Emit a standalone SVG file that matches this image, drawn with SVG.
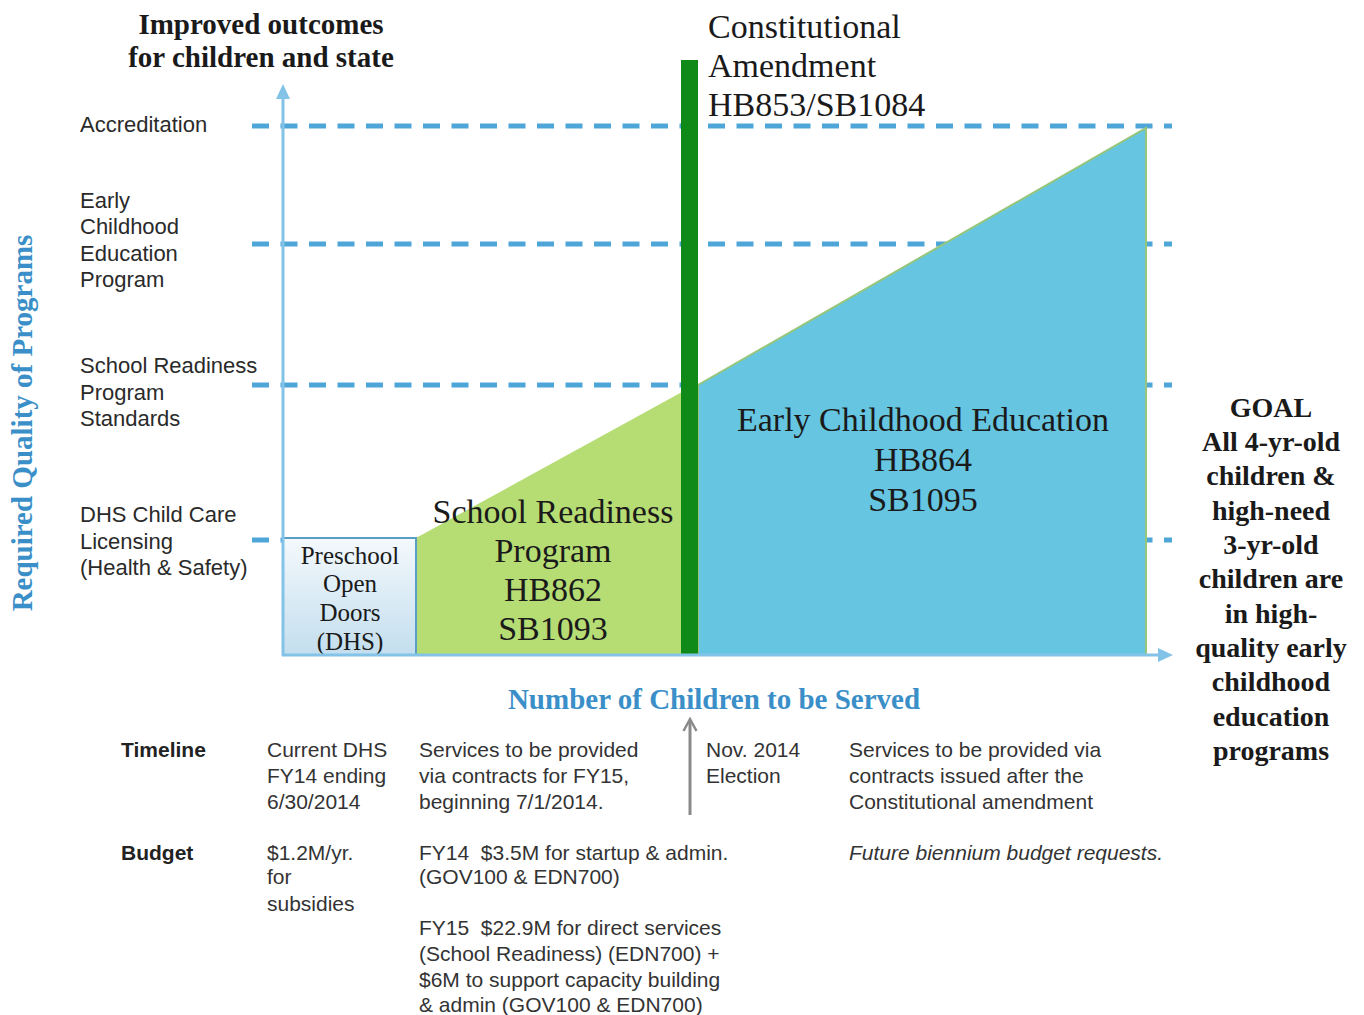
<svg xmlns="http://www.w3.org/2000/svg" width="1364" height="1015" viewBox="0 0 1364 1015">
<defs>
<linearGradient id="pgrad" x1="0" y1="0" x2="0" y2="1">
<stop offset="0" stop-color="#f4f9fc"/>
<stop offset="1" stop-color="#c3deee"/>
</linearGradient>
<marker id="axarrow" markerWidth="16" markerHeight="16" refX="4" refY="8" orient="auto" markerUnits="userSpaceOnUse">
<path d="M0,1 L15,8 L0,15 Z" fill="#84c3e8"/>
</marker>
<marker id="grayarrow" markerWidth="16" markerHeight="16" refX="12" refY="8" orient="auto" markerUnits="userSpaceOnUse">
<path d="M1,1.5 L13,8 L1,14.5" fill="none" stroke="#8a8a8a" stroke-width="2.5"/>
</marker>
</defs>
<style>
.serif{font-family:"Liberation Serif","Times New Roman",serif;fill:#1a1a1a}
.bold{font-weight:bold}
.lbl{font-family:"Liberation Sans",Arial,sans-serif;font-size:22px;fill:#2a2a2a}
.tbl{font-family:"Liberation Sans",Arial,sans-serif;font-size:21px;fill:#333}
.dash{stroke:#4ea6d8;stroke-width:5;stroke-dasharray:17 11.5;fill:none}
</style>
<rect width="1364" height="1015" fill="#ffffff"/>

<g id="gridlines">
<line class="dash" x1="252" y1="126" x2="1172" y2="126"/>
<line class="dash" x1="252" y1="244" x2="1172" y2="244"/>
<line class="dash" x1="252" y1="385" x2="1172" y2="385"/>
<line class="dash" x1="252" y1="540" x2="1172" y2="540"/>
</g>

<g id="ece-area">
<polygon points="698,385 1146,128 1146,655 698,655" fill="#66c5e0" stroke="#96c67a" stroke-width="2"/>
<text class="serif" font-size="34" text-anchor="middle"><tspan x="923" y="431">Early Childhood Education</tspan><tspan x="923" y="471">HB864</tspan><tspan x="923" y="511">SB1095</tspan></text>
</g>

<g id="school-readiness-area">
<polygon points="416,538 682,392 682,655 416,655" fill="#b6dc74"/>
<text class="serif" font-size="34" text-anchor="middle"><tspan x="553" y="523">School Readiness</tspan><tspan x="553" y="562">Program</tspan><tspan x="553" y="601">HB862</tspan><tspan x="553" y="640">SB1093</tspan></text>
</g>

<g id="preschool">
<rect x="283" y="538" width="133" height="117" fill="url(#pgrad)" stroke="#5a9ec8" stroke-width="2"/>
<text class="serif" font-size="25" text-anchor="middle" fill="#333"><tspan x="350" y="564">Preschool</tspan><tspan x="350" y="592">Open</tspan><tspan x="350" y="621">Doors</tspan><tspan x="350" y="650">(DHS)</tspan></text>
</g>

<g id="amendment">
<rect x="681" y="60" width="17" height="595" fill="#0f8a18"/>
<text class="serif" font-size="34"><tspan x="708" y="38">Constitutional</tspan><tspan x="708" y="77">Amendment</tspan><tspan x="708" y="116">HB853/SB1084</tspan></text>
</g>

<g id="connectors">
<line x1="283" y1="656" x2="283" y2="95" stroke="#84c3e8" stroke-width="3" marker-end="url(#axarrow)"/>
<line x1="282" y1="655" x2="1162" y2="655" stroke="#84c3e8" stroke-width="3" marker-end="url(#axarrow)"/>
<line x1="690" y1="815" x2="690" y2="720" stroke="#8a8a8a" stroke-width="3" marker-end="url(#grayarrow)"/>
</g>

<g id="y-axis-title">
<text class="serif bold" font-size="29" text-anchor="middle" transform="translate(32,423) rotate(-90)" style="fill:#3a8fc8">Required Quality of Programs</text>
</g>

<g id="top-title">
<text class="serif bold" font-size="29" text-anchor="middle"><tspan x="261" y="34">Improved outcomes</tspan><tspan x="261" y="67">for children and state</tspan></text>
</g>

<g id="x-axis-title">
<text class="serif bold" font-size="29" text-anchor="middle" x="714" y="709" style="fill:#3a8fc8">Number of Children to be Served</text>
</g>

<g id="level-labels">
<text class="lbl" x="80" y="132">Accreditation</text>
<text class="lbl"><tspan x="80" y="208">Early</tspan><tspan x="80" y="234">Childhood</tspan><tspan x="80" y="261">Education</tspan><tspan x="80" y="287">Program</tspan></text>
<text class="lbl"><tspan x="80" y="373">School Readiness</tspan><tspan x="80" y="400">Program</tspan><tspan x="80" y="426">Standards</tspan></text>
<text class="lbl"><tspan x="80" y="522">DHS Child Care</tspan><tspan x="80" y="549">Licensing</tspan><tspan x="80" y="575">(Health &amp; Safety)</tspan></text>
</g>

<g id="goal">
<text class="serif bold" font-size="28" text-anchor="middle"><tspan x="1271" y="417">GOAL</tspan><tspan x="1271" y="451">All 4-yr-old</tspan><tspan x="1271" y="485">children &amp;</tspan><tspan x="1271" y="520">high-need</tspan><tspan x="1271" y="554">3-yr-old</tspan><tspan x="1271" y="588">children are</tspan><tspan x="1271" y="623">in high-</tspan><tspan x="1271" y="657">quality early</tspan><tspan x="1271" y="691">childhood</tspan><tspan x="1271" y="726">education</tspan><tspan x="1271" y="760">programs</tspan></text>
</g>

<g id="timeline-row">
<text class="tbl bold" x="121" y="757" style="fill:#222">Timeline</text>
<text class="tbl"><tspan x="267" y="757">Current DHS</tspan><tspan x="267" y="783">FY14 ending</tspan><tspan x="267" y="809">6/30/2014</tspan></text>
<text class="tbl"><tspan x="419" y="757">Services to be provided</tspan><tspan x="419" y="783">via contracts for FY15,</tspan><tspan x="419" y="809">beginning 7/1/2014.</tspan></text>
<text class="tbl"><tspan x="706" y="757">Nov. 2014</tspan><tspan x="706" y="783">Election</tspan></text>
<text class="tbl"><tspan x="849" y="757">Services to be provided via</tspan><tspan x="849" y="783">contracts issued after the</tspan><tspan x="849" y="809">Constitutional amendment</tspan></text>
</g>

<g id="budget-row">
<text class="tbl bold" x="121" y="860" style="fill:#222">Budget</text>
<text class="tbl"><tspan x="267" y="860">$1.2M/yr.</tspan><tspan x="267" y="884">for</tspan><tspan x="267" y="911">subsidies</tspan></text>
<text class="tbl" xml:space="preserve"><tspan x="419" y="860">FY14  $3.5M for startup &amp; admin.</tspan><tspan x="419" y="884">(GOV100 &amp; EDN700)</tspan></text>
<text class="tbl" xml:space="preserve"><tspan x="419" y="935">FY15  $22.9M for direct services</tspan><tspan x="419" y="961">(School Readiness) (EDN700) +</tspan><tspan x="419" y="987">$6M to support capacity building</tspan><tspan x="419" y="1012">&amp; admin (GOV100 &amp; EDN700)</tspan></text>
<text class="tbl" x="849" y="860" font-style="italic">Future biennium budget requests.</text>
</g>
</svg>
